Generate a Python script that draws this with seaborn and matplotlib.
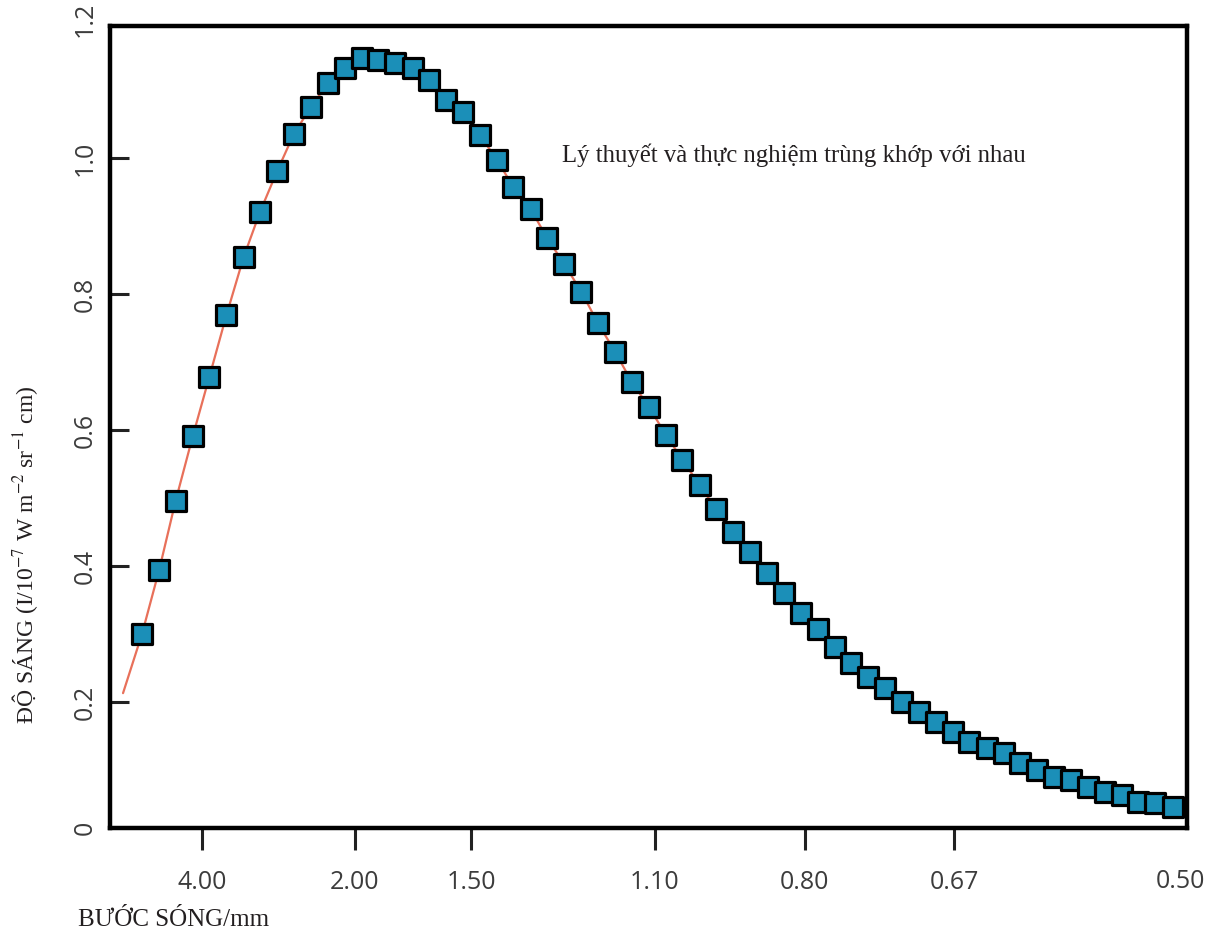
import numpy as np
import pandas as pd
import matplotlib
matplotlib.use("Agg")
import matplotlib.pyplot as plt
import seaborn as sns

# ---- data ----
# x: position along the frequency-like axis (cm^-1 scale), y: brightness
freq = [1.52, 1.80, 2.07, 2.35, 2.62, 2.90, 3.18, 3.45, 3.73, 4.00,
        4.28, 4.56, 4.83, 5.11, 5.38, 5.66, 5.94, 6.21, 6.49, 6.76,
        7.04, 7.32, 7.59, 7.87, 8.14, 8.42, 8.70, 8.97, 9.25, 9.52,
        9.80, 10.08, 10.35, 10.63, 10.90, 11.18, 11.46, 11.73, 12.01, 12.28,
        12.56, 12.84, 13.11, 13.39, 13.66, 13.94, 14.22, 14.49, 14.77, 15.04,
        15.32, 15.60, 15.87, 16.15, 16.42, 16.70, 16.98, 17.25, 17.53, 17.80,
        18.08, 18.36]
brightness = [0.300, 0.394, 0.496, 0.591, 0.678, 0.769, 0.854, 0.921, 0.981, 1.035,
              1.075, 1.110, 1.132, 1.147, 1.144, 1.140, 1.132, 1.115, 1.085, 1.068,
              1.034, 0.997, 0.957, 0.925, 0.882, 0.844, 0.803, 0.757, 0.715, 0.671,
              0.634, 0.593, 0.556, 0.519, 0.484, 0.450, 0.421, 0.390, 0.360, 0.331,
              0.307, 0.281, 0.257, 0.237, 0.221, 0.200, 0.185, 0.171, 0.156, 0.141,
              0.132, 0.125, 0.110, 0.100, 0.090, 0.085, 0.075, 0.068, 0.063, 0.053,
              0.051, 0.046]
theory_x = [1.21] + freq
theory_y = [0.213] + brightness

xtick_pos = [2.50, 5.00, 6.90, 9.90, 12.35, 14.79]
xtick_labels = ["4.00", "2.00", "1.50", "1.10", "0.80", "0.67"]
last_xlabel_pos = 18.48
last_xlabel = "0.50"
ytick_pos = [0.2, 0.4, 0.6, 0.8, 1.0]
ytick_labels = ["0.2", "0.4", "0.6", "0.8", "1.0"]

annotation = "Lý thuyết và thực nghiệm trùng khớp với nhau"
xlabel = "BƯỚC SÓNG/mm"
ylabel = "ĐỘ SÁNG (I/10$^{-7}$ W m$^{-2}$ sr$^{-1}$ cm)"

# ---- style ----
sns.set_theme(style="white")
plt.rcParams["mathtext.fontset"] = "stix"
plt.rcParams["font.family"] = ["DejaVu Sans"]

W, H = 1220, 936
fig = plt.figure(figsize=(W / 100, H / 100), dpi=100)
ax = fig.add_axes([110 / W, 1 - 828 / H, (1187 - 110) / W, (828 - 26) / H])

pts = pd.DataFrame({"freq": freq, "brightness": brightness})
line = pd.DataFrame({"freq": theory_x, "brightness": theory_y})

sns.lineplot(data=line, x="freq", y="brightness", ax=ax, color="#e8705a",
             linewidth=1.6, zorder=2, sort=False)
sns.scatterplot(data=pts, x="freq", y="brightness", ax=ax, marker="s", s=215,
                color="#1b8fb8", edgecolor="black", linewidth=2.3, zorder=3)

ax.set_xlim(0.997, 18.595)
ax.set_ylim(0.0147, 1.194)

tick_font = dict(family=["Open Sans", "DejaVu Sans"], size=18, color="#3c3c3c")

ax.set_xticks(xtick_pos)
ax.set_xticklabels(xtick_labels, **tick_font)
ax.set_yticks(ytick_pos)
ax.set_yticklabels(ytick_labels, rotation=90, va="center", **tick_font)

ax.tick_params(axis="x", direction="out", length=16, width=2.2, color="#222222", pad=14,
               bottom=True)
ax.tick_params(axis="y", direction="in", length=14, width=2.2, color="#222222", pad=9,
               left=True)

# extra y labels at the frame edges and the clipped last x label
ax.text(-0.023, 0.0147, "0", transform=ax.get_yaxis_transform(), rotation=90,
        ha="center", va="center", clip_on=False, **tick_font)
ax.text(-0.023, 1.204, "1.2", transform=ax.get_yaxis_transform(), rotation=90,
        ha="center", va="center", clip_on=False, **tick_font)
ax.text(last_xlabel_pos, -0.067, last_xlabel, transform=ax.get_xaxis_transform(),
        ha="center", va="center", clip_on=False, **tick_font)

for sp in ax.spines.values():
    sp.set_visible(True)
    sp.set_linewidth(3.2)
    sp.set_color("black")

ax.set_xlabel("")
ax.set_ylabel("")
ax.grid(False)

serif = ["Liberation Serif", "DejaVu Serif"]
fig.text(562 / W, 1 - 155 / H, annotation, family=serif, size=17.8, color="#231f20",
         ha="left", va="center")
fig.text(78 / W, 1 - 920 / H, xlabel, family=serif, size=18, color="#231f20",
         ha="left", va="center")
fig.text(25 / W, 1 - 555 / H, ylabel, family=serif, size=17, color="#231f20",
         rotation=90, ha="center", va="center")

fig.savefig("out.png", dpi=100)
